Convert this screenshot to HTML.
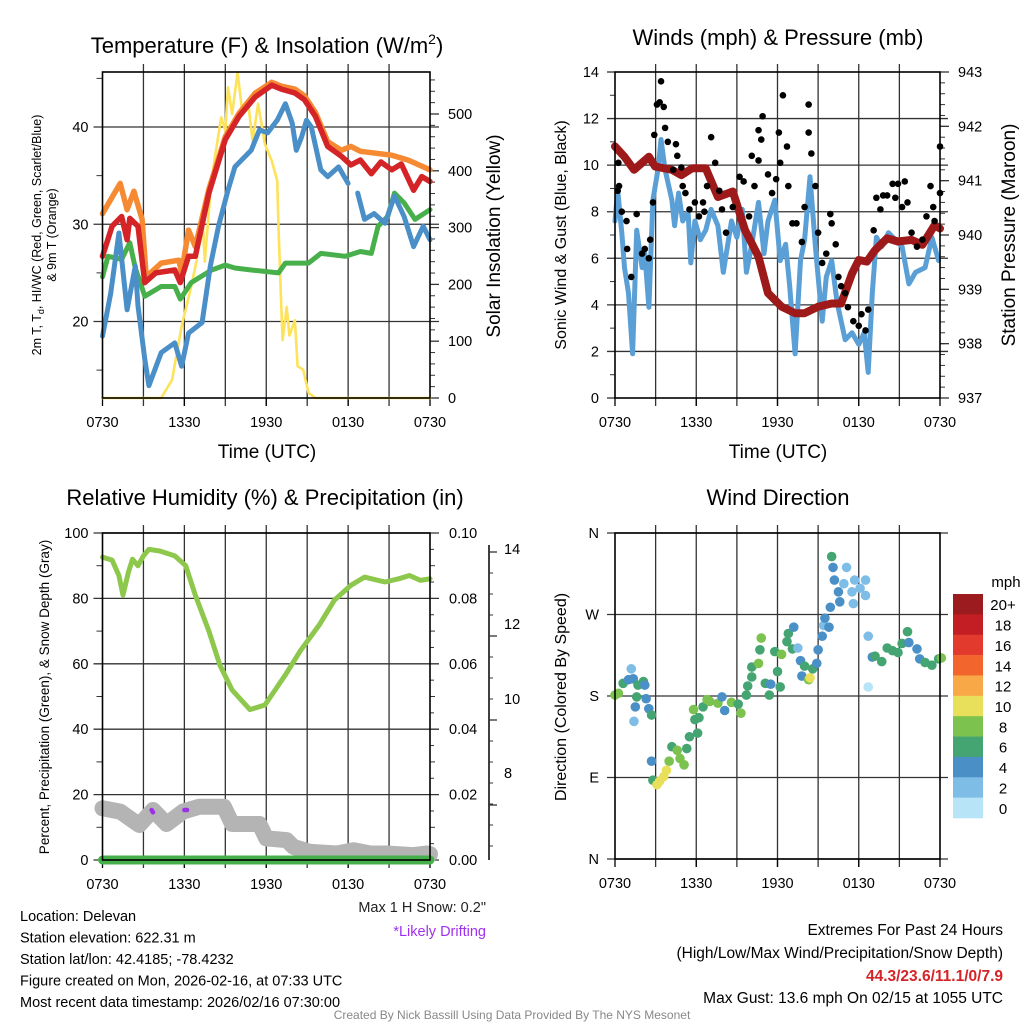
<!DOCTYPE html>
<html><head><meta charset="utf-8"><style>
html,body{margin:0;padding:0;background:#fff;}
svg{display:block;font-family:"Liberation Sans",sans-serif;}
</style></head><body>
<svg id="fig" width="1024" height="1024" viewBox="0 0 1024 1024">
<g id="layer"></g>
</svg>
<script>
// ---- Data (hours since 0730 UTC) ----
const xTickLabels = ["0730","1330","1930","0130","0730"];
const tRedH = [0,0.7,1.4,1.8,2,2.6,3.1,3.9,5.3,5.7,6.3,6.8,7.8,9,10,11.2,12.4,13.1,14.1,14.8,15.6,16.5,17.5,18.2,18.9,19.7,20.4,21.2,21.9,22.8,23.4,24];
const tRedV = [26.7,29.8,30.8,28.4,30.6,29.8,24.0,25.0,25.3,24.0,26.7,26.7,33.2,38.7,41.1,43.1,44.3,43.9,43.5,42.8,41.1,38,37,36.1,36.6,35.2,36.4,35.6,36.2,33.5,34.9,34.4];
const tOrgH = [0,1.3,1.8,2.3,2.9,3.2,4.3,5.6,5.8,6.3,6.8,7.8,9,10,11.2,12.4,13.1,14.1,14.8,15.6,16.5,17.5,18.2,18.9,21.2,22.4,24];
const tOrgV = [31.1,34.2,31.5,33.4,30.5,24.6,26,26.3,25,29.4,27.7,33.6,39,41.4,43.5,44.6,44.2,43.9,43.2,41.5,38.5,37.6,38,37.5,37.1,36.6,35.6];
const tDewH = [0,0.6,1.2,1.8,2.4,2.6,3.1,3.4,4.3,5.3,5.8,6.3,7.3,7.9,8.5,9.2,9.7,10.9,11.5,12.1,12.8,13.4,13.9,14.2,14.6,14.95,15.3,16,16.5,17.3,18];
const tDewV = [18.5,22.9,29.1,21.2,25.7,21.6,16.1,13.4,16.8,17.8,15.4,18.8,19.9,25.7,29.8,33.5,35.9,37.6,39.7,39.4,40.7,42.4,40.4,37.6,39,40.7,40,35.6,34.9,35.9,34.2];
const tDew2H = [18.7,19.2,19.9,20.7,21.4,22.1,22.8,23.5,24];
const tDew2V = [33.2,30.5,31.1,30.1,32.9,30.8,27.7,29.8,28.4];
const tHiH = [0,0.4,1.4,2,2.4,3.1,4.3,5.3,5.7,6.5,8,9,9.7,10.9,12.9,13.4,15.1,16,17.8,18.9,19.7,20.2,20.9,21.4,22.1,22.9,24];
const tHiV = [24.6,26.7,26.4,28.1,25.5,22.6,23.6,23.6,22.3,24,25.3,25.8,25.5,25.3,25,26,26,27,26.7,27.2,27,29.8,30.8,33.2,32.2,30.5,31.5];
const solH = [0,4.3,5.1,5.8,6.5,6.9,7.3,7.5,7.9,8.2,8.7,9,9.2,9.5,9.9,10.2,10.7,11,11.4,11.9,12.4,12.8,12.9,13.1,13.2,13.5,13.7,14.1,14.3,14.7,15.1,15.6,24];
const solV = [0,0,32,126,196,243,330,240,360,418,494,471,547,500,573,512,515,453,518,447,418,383,301,161,102,160,110,137,56,50,9,0,0];
const tempTicks = [20,30,40];
const solTicks = [0,100,200,300,400,500];

const windH = [0,0.2,0.5,0.7,1,1.3,1.6,2,2.2,2.5,2.8,3.2,3.4,3.7,4.2,4.4,4.7,5,5.4,5.6,5.9,6.3,6.7,7.1,7.6,8,8.6,9,9.4,9.7,10.1,10.6,11,11.3,11.8,12.2,12.6,12.9,13.3,13.7,14,14.4,14.8,15.3,15.6,16,16.4,17,17.5,18,18.4,18.7,19,19.3,19.7,20.2,20.7,21.2,21.7,22.2,22.9,23.4,23.9];
const windV = [7.6,8.9,7.1,5.6,4.5,1.9,7.2,5.6,6.2,3.9,8.5,9.9,11.1,9.8,8.5,7.4,8.8,7.6,8.0,5.8,7.6,6.8,7.2,8.1,7.4,5.4,7.6,6.9,8.1,5.4,6.6,8.4,6.2,7.6,8.5,5.9,6.6,4.8,1.9,5.9,6.8,9.5,6.5,3.3,5.2,5.9,4.1,2.5,2.8,2.3,2.8,1.1,4.5,6.9,6.5,7.1,6.8,6.5,4.9,5.4,5.6,6.9,5.9];
const presH = [0,0.7,1.4,2.5,2.96,4.2,4.9,5.7,6.7,7.6,8.7,9.6,10.6,11.3,12.3,13.3,14,15,16,16.7,17.5,18,18.6,19.2,20.1,20.9,21.9,22.7,23.6,24];
const presV = [941.63,941.44,941.2,941.44,941.26,941.2,941.1,941.23,941.23,940.7,940.8,940.09,939.6,938.93,938.68,938.56,938.56,938.68,938.74,938.74,939.29,939.54,939.51,939.72,939.94,939.88,939.91,939.82,940.18,940.12];
const gustH = [0.2,0.25,0.3,0.5,0.85,0.9,1.2,1.6,2,2.2,2.5,2.6,2.8,2.9,3.1,3.3,3.4,3.6,3.7,3.9,4.3,4.5,4.6,4.9,5,5.2,5.5,5.9,6.2,6.5,6.6,6.8,7.1,7.4,7.7,7.9,8.2,8.7,9.2,9.5,9.9,10.1,10.3,10.6,10.6,10.8,10.9,11.3,11.6,11.9,12.1,12.2,12.4,12.7,12.8,13.1,13.4,13.8,14,14.3,14.3,14.5,14.8,15,15.3,15.6,15.9,16,16.3,16.5,16.7,17,17.2,17.6,18,18.2,18.5,18.7,19.1,19.3,19.6,19.8,20.1,20.5,20.7,20.9,21.2,21.4,21.6,21.9,22.3,22.7,23,23.3,23.5,23.6,24,24];
const gustV = [8.9,10.1,9.1,8.0,7.6,6.4,5.2,7.9,6.2,6.4,6.0,6.8,8.4,11.3,12.6,12.7,13.6,12.5,11.6,11.0,9.8,10.9,10.4,9.9,9.1,8.8,8.1,8.4,7.8,8.4,8.0,9.1,11.2,10.1,8.9,8.1,7.1,8.2,9.5,9.3,7.8,10.4,9.1,10.2,11.5,11.1,12.1,9.6,8.8,9.4,11.4,10.1,13.0,10.8,9.1,7.5,7.5,6.7,8.2,11.4,12.6,10.5,9.1,7.1,5.8,6.2,7.9,7.5,6.6,5.2,4.8,4.5,3.9,3.3,3.1,3.6,2.9,3.8,7.2,8.6,8.1,8.7,8.7,9.2,8.6,9.2,8.2,9.3,8.4,7.1,6.5,6.8,7.8,9.1,8.2,7.6,8.8,10.8];
const windTicks = [0,2,4,6,8,10,12,14];
const presTicks = [937,938,939,940,941,942,943];

const rhH = [0,0.7,1.2,1.5,1.9,2.2,2.6,3,3.4,4.2,5.3,6.1,6.8,7.8,8.6,9.5,10.8,11.9,13.4,14.5,15.9,17,18.2,19.2,20.7,21.7,22.5,23.3,24];
const rhV = [92.6,91.7,87,81,88,92,90,93,95,94.5,93,90,81,70,59.6,52,46,47.4,56.6,64,72,79.5,84,86.5,85,86,87,85.5,86];
const snowH = [0,1.3,2.7,3.7,4.7,5.9,7.1,8.9,9.5,11.5,12,13.5,14,15.2,17.2,18.4,19.6,20.8,22.8,23.8,24];
const snowV = [15.8,14.8,10.7,15.3,11,14.8,16.3,16.3,11,11,6.6,6.1,4,2.5,2,3,2,2,1.5,2,1.8];
const driftH = [3.6,3.7,6.0,6.2];
const driftV = [15.3,14.6,15.3,15.3];
const precipH = [0,24];
const precipV = [0,0];
const rhTicks = [0,20,40,60,80,100];
const prTickLabels = ["0.00","0.02","0.04","0.06","0.08","0.10"];
const snowTickLabels = ["8","10","12","14"];

const dirH = [0,0.25,0.6,1,1.2,1.35,1.5,1.4,1.6,1.7,2.1,2.2,2.3,2.5,2.7,2.7,2.8,3.1,3.3,3.6,3.8,4,4.2,4.6,4.8,5.1,5.3,5.5,5.8,5.9,6.1,6.2,6.5,6.8,7.0,7.6,7.9,8.1,8.6,9.1,9.3,9.7,9.8,10.1,10.1,10.6,10.7,10.8,11.1,11.4,11.5,11.8,12,12.2,12.3,12.7,12.8,13.2,13.1,13.5,13.7,13.8,14,14.3,14.4,14.6,14.9,15.0,15.3,15.4,15.5,15.8,15.9,16,16.1,16.2,16.5,16.6,16.9,17.1,17.5,17.6,17.7,18.1,18.5,18.5,18.7,18.7,19,19.2,19.7,20.1,20.5,20.9,21.2,21.6,21.7,22.3,22.5,22.9,23.4,23.9,24.1];
const dirV = [181,183,194,198,210,199,168,152,179,192,196,192,177,166,159,108,87,82,86,91,98,108,124,120,111,104,122,135,165,154,139,156,168,176,174,172,179,164,173,171,161,181,191,201,212,216,231,244,194,181,193,229,207,190,226,240,249,256,232,233,219,202,213,198,200,210,216,231,246,258,266,256,278,334,322,308,295,284,304,322,295,282,308,299,308,291,190,246,223,224,218,233,230,228,238,251,239,232,221,217,214,221,222];
const dirS = [7,7,6,4,2,4,4,2,6,6,6,4,4,4,6,4,6,10,10,10,10,8,6,8,8,8,6,6,8,6,6,6,6,8,8,8,4,4,8,6,8,6,6,6,6,8,6,8,6,6,4,6,6,6,8,6,6,4,6,2,4,4,6,8,10,6,4,4,4,2,4,4,4,6,4,4,4,4,2,2,2,2,2,2,2,2,0,2,4,6,6,6,6,6,6,6,4,4,4,6,6,6,8];
const dirTickLabels = ["N","E","S","W","N"];
const cbLabels = ["20+","18","16","14","12","10","8","6","4","2","0"];
const cbColors = ["#9b1b1e","#c41e25","#e23a2c","#f2662e","#f9a848","#e8e05a","#7bc24e","#44a572","#4a8fc6","#7ebde6","#b7e4f7"];

// ---- helpers ----
const NS = "http://www.w3.org/2000/svg";
const root = document.getElementById("layer");
function mk(tag, attrs, parent, txt){
  const e = document.createElementNS(NS, tag);
  for (const k in attrs) e.setAttribute(k, attrs[k]);
  if (txt !== undefined) e.textContent = txt;
  (parent || root).appendChild(e);
  return e;
}
function lin(d0,d1,r0,r1){ return v => r0 + (v-d0)/(d1-d0)*(r1-r0); }
function pathOf(hs, vs, sx, sy){
  return hs.map((h,i)=>(i?"L":"M")+sx(h).toFixed(1)+","+sy(vs[i]).toFixed(1)).join("");
}
function line(g, hs, vs, sx, sy, color, w, name){
  const p = mk("path", {d:pathOf(hs,vs,sx,sy), fill:"none", stroke:color, "stroke-width":w, "stroke-linejoin":"round", "stroke-linecap":"round"}, g);
  
  
  return p;
}
function txt(g, x, y, s, size, anchor, name, extra){
  const a = {x:x, y:y, "font-size":size, "text-anchor":anchor||"middle", fill:"#000"};
  if (extra) for (const k in extra) a[k]=extra[k];
  const t = mk("text", a, g, s);
  
  
  return t;
}
function frame(g, x0,y0,x1,y1, name){
  const r = mk("rect",{x:x0,y:y0,width:x1-x0,height:y1-y0,fill:"none",stroke:"#000","stroke-width":1.6}, g);
  
  
}
function vgrid(g, x0,x1,y0,y1){
  const sx = lin(0,24,x0,x1);
  for (let h=3; h<24; h+=3){
    const l = mk("line",{x1:sx(h),x2:sx(h),y1:y0-8,y2:y1+8,stroke:"#333","stroke-width":1.3}, g);
    
    
  }
  for (let h=0; h<=24; h+=6){
    const l = mk("line",{x1:sx(h),x2:sx(h),y1:y1,y2:y1+8,stroke:"#000","stroke-width":1.3}, g);
    
    
  }
  xTickLabels.forEach((s,i)=>txt(g, sx(i*6), y1+29, s, 14.5, "middle", "x-tick-label"));
}
function hline(g, x0, x1, y, w, name){
  const l = mk("line",{x1:x0,x2:x1,y1:y,y2:y,stroke:"#333","stroke-width":w||1.3}, g);
  
  
}

// ---- Panel 1 ----
(function(){
  const g = mk("g",{});  
  const X0=102.5, X1=430, Y0=72, Y1=398;
  const sx = lin(0,24,X0,X1);
  const sy = lin(20,40,321.5,127);
  const sy2 = lin(0,500,398,114);
  vgrid(g,X0,X1,Y0,Y1);
  tempTicks.forEach(t=>{ hline(g,X0-9,X1+9,sy(t),1.3,"temp-gridline"); txt(g,X0-14,sy(t)+5,String(t),14.5,"end","temp-tick-label"); });
  [15,25,35,45].forEach(t=>hline(g,X0-6,X0,sy(t),1,"temp-minor-tick"));
  solTicks.forEach(t=>{ hline(g,X1,X1+9,sy2(t),1.3,"sol-tick"); txt(g,X1+18,sy2(t)+5,String(t),14.5,"start","sol-tick-label"); });
  for(let t=20;t<=560;t+=20) if(t%100) hline(g,X1,X1+5,sy2(t),1,"sol-minor-tick");
  line(g,solH,solV,sx,sy2,"#fde25a",2.6,"insolation-line");
  line(g,tHiH,tHiV,sx,sy,"#47b04b",5,"heat-index-line");
  line(g,tOrgH,tOrgV,sx,sy,"#f68a32",5.5,"temp-9m-line");
  line(g,tRedH,tRedV,sx,sy,"#d42428",5.5,"temp-2m-line");
  line(g,tDewH,tDewV,sx,sy,"#4a8fc8",5,"dewpoint-line");
  line(g,tDew2H,tDew2V,sx,sy,"#4a8fc8",5,"dewpoint-line-2");
  frame(g,X0,Y0,X1,Y1,"temp-plot-frame");
  txt(g,267,53,"",22,"middle","temp-title").innerHTML='Temperature (F) &amp; Insolation (W/m<tspan font-size="14" dy="-9">2</tspan><tspan dy="9">)</tspan>';
  txt(g,267,458,"Time (UTC)",19,"middle","temp-x-title");
  txt(g,0,0,"Solar Insolation (Yellow)",19,"middle","insolation-y-title",{transform:"translate(500,236) rotate(-90)"});
  const t1 = txt(g,0,0,"",12.5,"middle","temp-y-title",{transform:"translate(41,235) rotate(-90)"});
  t1.innerHTML='2m T, T<tspan font-size="9" dy="3">d</tspan><tspan dy="-3">, HI/WC (Red, Green, Scarlet/Blue)</tspan>';
  txt(g,0,0,"& 9m T (Orange)",12.5,"middle","temp-y-title-2",{transform:"translate(56,235) rotate(-90)"});
})();

// ---- Panel 2 ----
(function(){
  const g = mk("g",{});  
  const X0=615, X1=940, Y0=72, Y1=398;
  const sx = lin(0,24,X0,X1);
  const sy = lin(0,14,Y1,Y0);
  const sp = lin(937,943,Y1,Y0);
  vgrid(g,X0,X1,Y0,Y1);
  windTicks.forEach(t=>{ hline(g,X0-8,(t>0&&t<14)?X1+8:X0,sy(t),1.3,"wind-gridline"); txt(g,X0-16,sy(t)+5,String(t),14.5,"end","wind-tick-label"); });
  for(let t=1;t<14;t+=2) hline(g,X0-5,X0,sy(t),1,"wind-minor-tick");
  presTicks.forEach(t=>{ hline(g,X1,X1+9,sp(t),1.3,"pres-tick"); txt(g,X1+18,sp(t)+5,String(t),14.5,"start","pres-tick-label"); });
  for(let t=937.2;t<943;t+=0.2) hline(g,X1,X1+5,sp(t),1,"pres-minor-tick");
  line(g,windH,windV,sx,sy,"#5a9fd6",5,"sonic-wind-line");
  line(g,presH,presV,sx,sp,"#9e1a1a",8,"pressure-line");
  gustH.forEach((h,i)=>{
    const c = mk("circle",{cx:sx(h),cy:sy(gustV[i]),r:3.3,fill:"#000"},g);
    
    
  });
  frame(g,X0,Y0,X1,Y1,"wind-plot-frame");
  txt(g,778,45,"Winds (mph) & Pressure (mb)",22,"middle","wind-title");
  txt(g,778,458,"Time (UTC)",19,"middle","wind-x-title");
  txt(g,0,0,"Sonic Wind & Gust (Blue, Black)",16,"middle","wind-y-title",{transform:"translate(566,235) rotate(-90)"});
  txt(g,0,0,"Station Pressure (Maroon)",19,"middle","pressure-y-title",{transform:"translate(1015,235) rotate(-90)"});
})();

// ---- Panel 3 ----
(function(){
  const g = mk("g",{});  
  const X0=102.5, X1=430, Y0=533, Y1=860;
  const sx = lin(0,24,X0,X1);
  const sy = lin(0,100,Y1,Y0);
  vgrid(g,X0,X1,Y0,Y1);
  rhTicks.forEach((t,i)=>{ hline(g,X0-9,X1+9,sy(t),1.3,"rh-gridline"); txt(g,X0-14,sy(t)+5,String(t),14.5,"end","rh-tick-label"); txt(g,X1+19,sy(t)+5,prTickLabels[i],14.5,"start","precip-tick-label"); });
  for(let t=10;t<100;t+=20){ hline(g,X0-6,X0,sy(t),1,"rh-minor-tick"); hline(g,X1,X1+5,sy(t),1,"precip-minor-tick"); }
  for(let t=5;t<100;t+=10) hline(g,X1,X1+4,sy(t),1,"precip-minor-tick");
  const ax = mk("line",{x1:489,x2:489,y1:545,y2:860,stroke:"#000","stroke-width":1.5},g);
   
  const snowY = [805,720,636,552];
  const snowLabelY = [778,704,629,554];
  snowTickLabels.forEach((s,i)=>{ hline(g,489,497,snowY[i],1.3,"snow-tick"); txt(g,504,snowLabelY[i],s,14.5,"start","snow-tick-label"); });
  for(let y=573;y<860;y+=21) hline(g,489,493,y,1,"snow-minor-tick");
  line(g,snowH,snowV,sx,sy,"#b4b4b4",16,"snow-depth-line");
  line(g,rhH,rhV,sx,sy,"#8dc84c",5,"rh-line");
  line(g,precipH,precipV,sx,sy,"#45b04a",9,"precip-line");
  for(let i=0;i<driftH.length;i+=2){
    const p = mk("path",{d:pathOf(driftH.slice(i,i+2),driftV.slice(i,i+2),sx,sy),stroke:"#9b30e6","stroke-width":4.5,"stroke-linecap":"round",fill:"none"},g);
    
    
  }
  frame(g,X0,Y0,X1,Y1,"rh-plot-frame");
  txt(g,265,505,"Relative Humidity (%) & Precipitation (in)",22,"middle","rh-title");
  txt(g,0,0,"Percent, Precipitation (Green), & Snow Depth (Gray)",13.5,"middle","rh-y-title",{transform:"translate(49,697) rotate(-90)"});
})();

// ---- Panel 4 ----
(function(){
  const g = mk("g",{});  
  const X0=615, X1=940, Y0=533, Y1=859;
  const sx = lin(0,24,X0,X1);
  const sy = lin(0,360,Y1,Y0);
  vgrid(g,X0,X1,Y0,Y1);
  dirTickLabels.forEach((s,i)=>{ hline(g,X0-8,X1+8,sy(i*90),1.3,"dir-gridline"); txt(g,X0-16,sy(i*90)+5,s,14.5,"end","dir-tick-label"); });
  const cidx = s => Math.max(0,Math.min(10,10-Math.round(s/2)));
  dirH.forEach((h,i)=>{
    const c = mk("circle",{cx:sx(h),cy:sy(dirV[i]),r:4.8,fill:cbColors[cidx(dirS[i])]},g);
    
    
  });
  frame(g,X0,Y0,X1,Y1,"dir-plot-frame");
  txt(g,778,505,"Wind Direction",22,"middle","dir-title");
  txt(g,0,0,"Direction (Colored By Speed)",16,"middle","dir-y-title",{transform:"translate(566,697) rotate(-90)"});
  const cb = mk("g",{},g);  
  const h = (818-594)/11;
  cbColors.forEach((c,i)=>{
    const r = mk("rect",{x:953,y:594+i*h,width:30,height:h+0.3,fill:c},cb);
    
    
    txt(cb,1003,594+i*h+h/2+6,cbLabels[i],15,"middle","colorbar-label");
  });
  txt(cb,1006,587,"mph",15,"middle","colorbar-title");
})();

// ---- footer text ----
(function(){
  const g = mk("g",{});  
  const L = ["Location: Delevan","Station elevation: 622.31 m","Station lat/lon: 42.4185; -78.4232","Figure created on Mon, 2026-02-16, at 07:33 UTC","Most recent data timestamp: 2026/02/16 07:30:00"];
  L.forEach((s,i)=>txt(g,20,921+i*21.5,s,14.5,"start","station-info-line"));
  txt(g,486,912,"Max 1 H Snow: 0.2\"",14.5,"end","max-snow-note",{fill:"#222"});
  txt(g,486,936,"*Likely Drifting",14.5,"end","drifting-note",{fill:"#a030f0"});
  txt(g,1003,935,"Extremes For Past 24 Hours",15.5,"end","extremes-title");
  txt(g,1003,958,"(High/Low/Max Wind/Precipitation/Snow Depth)",15.5,"end","extremes-subtitle");
  txt(g,1003,981,"44.3/23.6/11.1/0/7.9",15.5,"end","extremes-values",{fill:"#d42428","font-weight":"bold"});
  txt(g,1003,1003,"Max Gust: 13.6 mph On 02/15 at 1055 UTC",15.5,"end","max-gust");
  txt(g,512,1019,"Created By Nick Bassill Using Data Provided By The NYS Mesonet",12,"middle","credit",{fill:"#888"});
})();
</script>
</body></html>
